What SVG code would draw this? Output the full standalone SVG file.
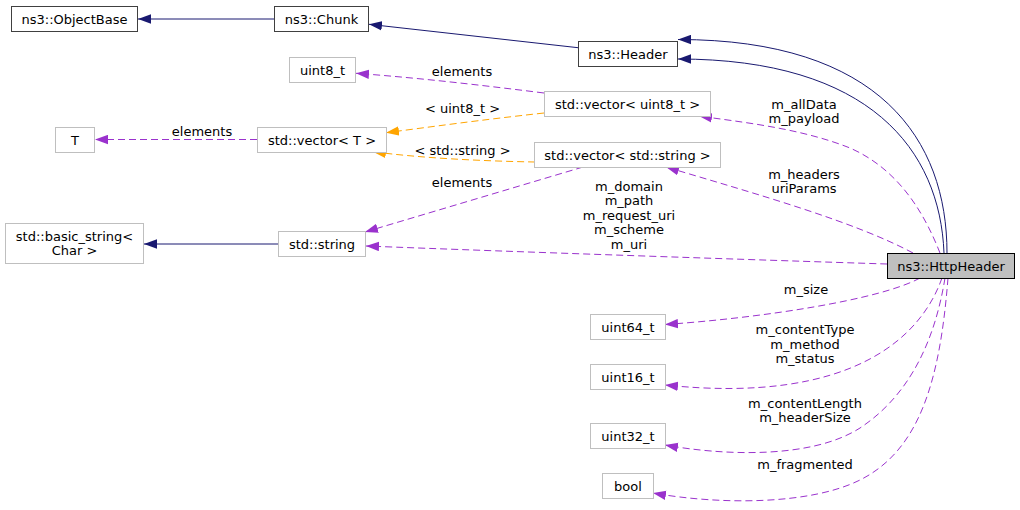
<svg xmlns="http://www.w3.org/2000/svg" width="1020" height="510" viewBox="0 0 1020 510">
<style>
text{font-family:"DejaVu Sans","Liberation Sans",sans-serif;font-size:13px;fill:#000;text-anchor:middle}
.nb{fill:#fff;stroke:#404040;stroke-width:1}
.ng{fill:#fff;stroke:#bfbfbf;stroke-width:1}
.nh{fill:#bfbfbf;stroke:#000;stroke-width:1}
.inh{fill:none;stroke:#191970;stroke-width:1}
.use{fill:none;stroke:#9a32cd;stroke-width:1;stroke-dasharray:7,4}
.tpl{fill:none;stroke:#ffa500;stroke-width:1;stroke-dasharray:7,4}
</style>
<defs>
<marker id="aN" markerUnits="userSpaceOnUse" markerWidth="14" markerHeight="10" refX="13" refY="5" orient="auto"><path d="M0,0.3 L13,5 L0,9.7 z" fill="#191970"/></marker>
<marker id="aP" markerUnits="userSpaceOnUse" markerWidth="14" markerHeight="10" refX="13" refY="5" orient="auto"><path d="M0,0.3 L13,5 L0,9.7 z" fill="#9a32cd"/></marker>
<marker id="aO" markerUnits="userSpaceOnUse" markerWidth="14" markerHeight="10" refX="13" refY="5" orient="auto"><path d="M0,0.3 L13,5 L0,9.7 z" fill="#ffa500"/></marker>
</defs>
<g id="edges">
<path class="inh" d="M274,19 L138,19" marker-end="url(#aN)"/>
<path class="inh" d="M578,47.7 L369,24.3" marker-end="url(#aN)"/>
<path class="inh" d="M947,253 C947,140 880,39.5 678,39.5" marker-end="url(#aN)"/>
<path class="inh" d="M944,253 C940,150 870,59 678,59" marker-end="url(#aN)"/>
<path class="inh" d="M278,244 L144,244" marker-end="url(#aN)"/>
<path class="use" d="M940,253 C925,215 900,170 850,148 C800,128 740,122 699,116" marker-end="url(#aP)"/>
<path class="use" d="M913,253 C855,222 760,195 666,167" marker-end="url(#aP)"/>
<path class="use" d="M887,264 C760,260 520,252 366,246" marker-end="url(#aP)"/>
<path class="use" d="M583,167 L365,232" marker-end="url(#aP)"/>
<path class="use" d="M257,139.5 L95,139.5" marker-end="url(#aP)"/>
<path class="use" d="M544,93 C480,85 420,78 356,73.3" marker-end="url(#aP)"/>
<path class="tpl" d="M544,113 C480,120 430,127 386,132.7" marker-end="url(#aO)"/>
<path class="tpl" d="M535,162 C480,161 420,158 373,151.7" marker-end="url(#aO)"/>
<path class="use" d="M920,278 C880,300 760,318 665,324.5" marker-end="url(#aP)"/>
<path class="use" d="M942,278 C922,335 855,405 665,385" marker-end="url(#aP)"/>
<path class="use" d="M945,278 C935,340 910,395 860,428 C810,460 720,455 665,445" marker-end="url(#aP)"/>
<path class="use" d="M948,278 C940,380 920,450 860,480 C810,505 720,505 653,493" marker-end="url(#aP)"/>
</g>
<g id="edge-labels">
<text x="462" y="76">elements</text>
<text x="462.5" y="113">&lt; uint8_t &gt;</text>
<text x="202" y="136">elements</text>
<text x="462.5" y="155">&lt; std::string &gt;</text>
<text x="462" y="187">elements</text>
<text x="629" y="190.5">m_domain</text>
<text x="629" y="205">m_path</text>
<text x="629" y="219.5">m_request_uri</text>
<text x="629" y="234">m_scheme</text>
<text x="629" y="248.5">m_uri</text>
<text x="804" y="109">m_allData</text>
<text x="804" y="123">m_payload</text>
<text x="804" y="179">m_headers</text>
<text x="804" y="193">uriParams</text>
<text x="806" y="294">m_size</text>
<text x="805" y="334">m_contentType</text>
<text x="805" y="348.5">m_method</text>
<text x="805" y="363">m_status</text>
<text x="805" y="407.5">m_contentLength</text>
<text x="805" y="422">m_headerSize</text>
<text x="805" y="468.5">m_fragmented</text>
</g>
<g id="n-objectbase"><rect class="nb" x="11.5" y="6.5" width="126" height="25"/><text x="74.5" y="23.5">ns3::ObjectBase</text></g>
<g id="n-chunk"><rect class="nb" x="274.5" y="6.5" width="94" height="25"/><text x="321.5" y="23.5">ns3::Chunk</text></g>
<g id="n-header"><rect class="nb" x="578.5" y="41.5" width="99" height="25"/><text x="628" y="58.5">ns3::Header</text></g>
<g id="n-uint8"><rect class="ng" x="289.5" y="57.5" width="66" height="25"/><text x="322.5" y="74.5">uint8_t</text></g>
<g id="n-T"><rect class="ng" x="55.5" y="127.5" width="39" height="25"/><text x="75" y="144.5">T</text></g>
<g id="n-vectorT"><rect class="ng" x="257.5" y="127.5" width="129" height="25"/><text x="322" y="144.5">std::vector&lt; T &gt;</text></g>
<g id="n-vectoru8"><rect class="ng" x="544.5" y="91.5" width="166" height="25"/><text x="627.5" y="108.5">std::vector&lt; uint8_t &gt;</text></g>
<g id="n-vectorstr"><rect class="ng" x="534.5" y="142.5" width="186" height="25"/><text x="627.5" y="159.5">std::vector&lt; std::string &gt;</text></g>
<g id="n-httpheader"><rect class="nh" x="887.5" y="253.5" width="127" height="25"/><text x="951" y="270.5">ns3::HttpHeader</text></g>
<g id="n-basicstring"><rect class="ng" x="5.5" y="223.5" width="138" height="40"/><text x="74.5" y="240.5">std::basic_string&lt;</text><text x="74.5" y="255">Char &gt;</text></g>
<g id="n-string"><rect class="ng" x="278.5" y="231.5" width="87" height="25"/><text x="322" y="248.5">std::string</text></g>
<g id="n-uint64"><rect class="ng" x="590.5" y="314.5" width="75" height="25"/><text x="628" y="331.5">uint64_t</text></g>
<g id="n-uint16"><rect class="ng" x="590.5" y="364.5" width="75" height="25"/><text x="628" y="381.5">uint16_t</text></g>
<g id="n-uint32"><rect class="ng" x="590.5" y="423.5" width="75" height="25"/><text x="628" y="440.5">uint32_t</text></g>
<g id="n-bool"><rect class="ng" x="602.5" y="473.5" width="51" height="25"/><text x="628" y="490.5">bool</text></g>
</svg>
